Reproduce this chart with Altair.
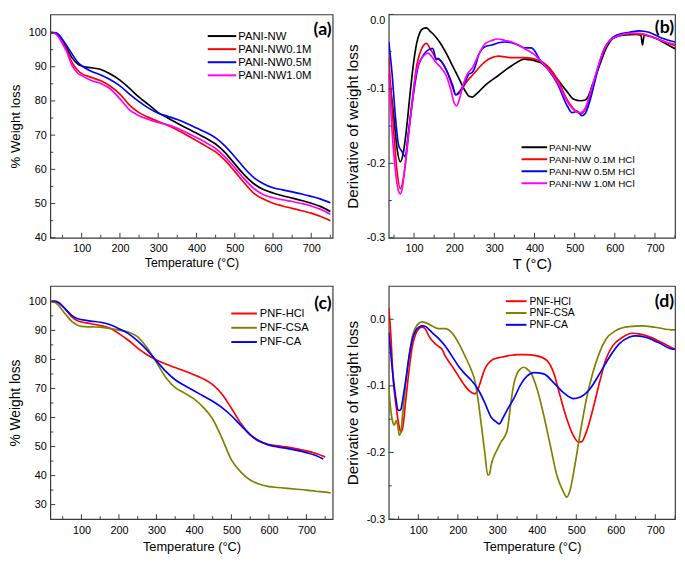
import altair as alt
import pandas as pd

FONT = "Liberation Sans"
FRAME = "#3a3a3a"

# ---------------- panel (a): TGA ----------------
a_T = [20, 30, 40, 50, 60, 75, 90, 100, 125, 150, 175, 200, 225, 250, 275, 300, 325, 350,
       375, 400, 425, 450, 475, 500, 525, 550, 575, 600, 625, 650, 675, 700, 725, 750]
a_nw = [100, 99.9, 99.2, 97.6, 95.6, 92.6, 90.8, 90.2, 89.7, 89.2, 87.9, 86.1, 83.7, 81.1, 78.9, 76.6,
        75.0, 73.5, 72.0, 70.6, 69.1, 67.4, 64.9, 61.6, 58.4, 55.8, 54.1, 53.1, 52.3, 51.6, 50.9, 50.1, 49.1, 47.7]
a_01 = [100, 99.8, 98.8, 97.0, 95.0, 91.2, 88.9, 88.0, 86.9, 85.9, 84.3, 82.0, 78.8, 76.6, 75.2, 74.0,
        72.8, 71.5, 70.0, 68.4, 66.8, 65.1, 62.6, 59.4, 56.0, 53.0, 51.3, 50.1, 49.3, 48.6, 47.9, 47.2, 46.2, 45.0]
a_05 = [100, 100, 99.4, 98.0, 96.3, 93.7, 91.3, 90.3, 88.7, 87.6, 86.2, 84.4, 82.0, 79.8, 77.9, 76.4,
        75.5, 74.6, 73.4, 72.1, 70.8, 69.2, 66.8, 63.7, 60.4, 57.6, 55.8, 54.6, 54.0, 53.4, 52.8, 52.1, 51.3, 50.2]
a_10 = [100, 99.8, 98.6, 96.7, 94.6, 90.3, 88.1, 87.4, 86.0, 85.1, 83.5, 80.6, 77.4, 75.7, 74.6, 73.7,
        73.0, 72.0, 70.7, 69.3, 67.8, 66.1, 63.6, 60.5, 57.2, 54.4, 52.6, 51.7, 51.1, 50.6, 50.0, 49.3, 48.3, 46.9]
a_names = ["PANI-NW", "PANI-NW0.1M", "PANI-NW0.5M", "PANI-NW1.0M"]

# ---------------- panel (b): DTG ----------------
b_nw_T = [37, 49.5, 57.6, 65.8, 73.9, 82, 90.2, 98.4, 106.5, 114.7, 122.8, 131, 139, 147, 163.6, 180, 196,
          212.5, 228.8, 237, 245, 253, 261, 277.7, 310, 343, 375.6, 416, 457, 481.6, 498, 514.5, 526.4,
          538.6, 542.7, 546.8, 563, 579, 595.6, 620, 652.7, 665, 669, 673, 701.6, 726, 750]
b_nw_V = [-0.08, -0.137, -0.18, -0.198, -0.184, -0.150, -0.106, -0.067, -0.039, -0.024, -0.019, -0.018,
          -0.022, -0.026, -0.037, -0.052, -0.069, -0.087, -0.104, -0.110, -0.111, -0.108, -0.104, -0.095,
          -0.082, -0.069, -0.060, -0.065, -0.087, -0.104, -0.114, -0.116, -0.115, -0.104, -0.097, -0.091,
          -0.067, -0.045, -0.032, -0.028, -0.027, -0.028, -0.041, -0.028, -0.032, -0.039, -0.046]
b_01_T = [37, 49.5, 57.6, 65.8, 73.9, 82, 90.2, 98.4, 106.5, 114.7, 122.8, 131, 139, 147, 155, 163.6, 180,
          196, 204, 212.5, 228.8, 245, 261, 277.7, 294, 310, 343, 375.6, 416, 457, 481.6, 506, 518, 530.5,
          546.8, 563, 579, 603.8, 636.4, 669, 701.6, 726, 750]
b_01_V = [-0.058, -0.158, -0.210, -0.234, -0.219, -0.184, -0.141, -0.102, -0.069, -0.052, -0.042, -0.039,
          -0.045, -0.052, -0.059, -0.061, -0.074, -0.098, -0.108, -0.106, -0.092, -0.082, -0.072, -0.063,
          -0.058, -0.056, -0.058, -0.058, -0.063, -0.087, -0.115, -0.131, -0.133, -0.123, -0.093, -0.063,
          -0.041, -0.030, -0.026, -0.027, -0.032, -0.037, -0.042]
b_05_T = [37.2, 45.4, 53.5, 61.7, 69.8, 78, 86, 94.3, 102.4, 110.6, 118.7, 126.9, 135, 143, 147, 155.4,
          159.5, 167.7, 180, 196, 204, 212.5, 228.8, 237, 245, 253, 261, 277.7, 294, 310, 326.6, 343, 359,
          375.6, 392, 416, 436.7, 457, 481.6, 493.8, 506, 518, 526.4, 538.6, 555, 571, 587.5, 603.8, 636.4,
          661, 685, 718, 750]
b_05_V = [-0.037, -0.080, -0.137, -0.176, -0.184, -0.191, -0.158, -0.124, -0.093, -0.069, -0.059, -0.052,
          -0.048, -0.046, -0.046, -0.061, -0.059, -0.063, -0.074, -0.095, -0.108, -0.104, -0.089, -0.080,
          -0.078, -0.069, -0.054, -0.043, -0.041, -0.038, -0.037, -0.038, -0.041, -0.045, -0.045, -0.063,
          -0.076, -0.093, -0.123, -0.132, -0.130, -0.136, -0.133, -0.115, -0.080, -0.050, -0.035, -0.028,
          -0.024, -0.022, -0.024, -0.032, -0.037]
b_10_T = [37.2, 45.4, 53.5, 61.7, 65.8, 69.8, 78, 86, 94.3, 102.4, 110.6, 118.7, 126.9, 135, 143, 155.4,
          167.7, 180, 192, 200, 206, 212.5, 220.6, 233, 245, 261, 277.7, 294, 310, 326.6, 343, 359, 375.6,
          400, 416, 457, 481.6, 502, 514, 526.4, 538.6, 555, 571, 587.5, 612, 644.5, 669, 701.6, 726, 750]
b_10_V = [-0.080, -0.158, -0.210, -0.238, -0.241, -0.236, -0.202, -0.163, -0.124, -0.087, -0.067, -0.059,
          -0.054, -0.052, -0.056, -0.065, -0.072, -0.082, -0.102, -0.119, -0.123, -0.115, -0.098, -0.080,
          -0.072, -0.054, -0.039, -0.035, -0.033, -0.035, -0.037, -0.041, -0.046, -0.054, -0.063, -0.091,
          -0.117, -0.130, -0.132, -0.126, -0.106, -0.076, -0.050, -0.035, -0.028, -0.025, -0.026, -0.032,
          -0.037, -0.040]
b_names = ["PANI-NW", "PANI-NW 0.1M HCl", "PANI-NW 0.5M HCl", "PANI-NW 1.0M HCl"]

# ---------------- panel (c): TGA ----------------
c_T = [20, 30, 40, 50, 60, 75, 90, 100, 125, 150, 175, 200, 225, 250, 275, 300, 325, 350,
       375, 400, 425, 450, 475, 500, 525, 550, 575, 600, 625, 650, 675, 700, 725, 750]
c_hcl = [100, 100, 99.6, 98.3, 96.8, 94.6, 93.3, 92.9, 92.3, 91.7, 90.8, 88.9, 86.6, 83.9, 81.6, 79.8,
         78.4, 77.2, 76.0, 74.7, 73.3, 71.3, 68.0, 63.2, 58.0, 54.0, 51.7, 50.7, 50.2, 49.8, 49.2, 48.5, 47.6, 46.4]
c_ca_T = [20, 30, 40, 50, 60, 75, 90, 100, 125, 150, 175, 200, 225, 250, 275, 300, 325, 350,
          375, 400, 425, 450, 475, 500, 525, 550, 575, 600, 625, 650, 675, 700, 725, 745]
c_ca = [100, 100, 99.4, 98.3, 97.0, 95.1, 94.0, 93.7, 93.2, 92.8, 92.0, 90.6, 88.9, 86.4, 83.2, 79.5,
        75.9, 73.0, 71.0, 69.2, 67.4, 65.6, 63.4, 60.6, 57.3, 54.1, 51.9, 50.5, 49.8, 49.3, 48.7, 47.9, 46.9, 45.7]
c_csa_T = [20, 30, 40, 50, 60, 75, 90, 100, 125, 150, 175, 200, 225, 250, 275, 300, 325, 350,
           375, 400, 425, 450, 475, 500, 525, 550, 575, 600, 625, 650, 675, 700, 725, 750, 765]
c_csa = [100, 99.6, 98.5, 96.8, 95.2, 93.0, 91.8, 91.4, 91.2, 91.1, 90.7, 90.1, 89.4, 87.8, 84.0, 79.0,
         73.8, 70.3, 68.4, 66.4, 63.5, 59.5, 52.8, 45.4, 41.2, 38.5, 37.0, 36.2, 35.9, 35.6, 35.3, 35.0,
         34.6, 34.3, 34.0]
cd_names = ["PNF-HCl", "PNF-CSA", "PNF-CA"]

# ---------------- panel (d): DTG ----------------
d_hcl_T = [25, 31, 35, 43.4, 51.7, 55.9, 60, 68.4, 76.7, 85, 93.3, 101.6, 110, 118.2, 126.5, 134.8, 143,
           151.5, 159.8, 168, 184.7, 201.3, 218, 234.6, 243, 251, 259.5, 268, 284.4, 301, 317.7, 334.3, 351,
           367.6, 400.8, 425.8, 442.4, 459, 475.6, 492, 504.7, 513, 525.5, 542, 558.7, 575, 592, 617,
           641.8, 658.5, 683.4, 716.6, 745.7, 750]
d_hcl = [0.017, -0.030, -0.080, -0.129, -0.162, -0.169, -0.164, -0.120, -0.075, -0.040, -0.022, -0.014,
         -0.012, -0.015, -0.025, -0.032, -0.037, -0.041, -0.045, -0.055, -0.070, -0.085, -0.100, -0.110,
         -0.112, -0.105, -0.090, -0.075, -0.062, -0.058, -0.056, -0.054, -0.053, -0.053, -0.055, -0.062,
         -0.080, -0.115, -0.149, -0.174, -0.184, -0.184, -0.169, -0.135, -0.095, -0.060, -0.040, -0.027,
         -0.021, -0.022, -0.026, -0.035, -0.044, -0.045]
d_csa_T = [25, 26.8, 35, 39.3, 43.4, 47.6, 51.7, 55.9, 60, 68.4, 76.7, 85, 93.3, 101.6, 110, 118.2, 134.8,
           151.5, 168, 184.7, 201.3, 218, 234.6, 243, 251, 259.5, 268, 276, 280.3, 284.4, 292.7, 301, 309.4,
           317.7, 326, 334.3, 342.6, 351, 359, 367.5, 375.8, 384.2, 400.8, 417.5, 434, 450.7, 467.3, 475.6,
           484, 496.4, 509, 525.5, 542, 558.7, 575, 600, 633.5, 666.8, 700, 745.7, 750]
d_csa = [-0.10, -0.115, -0.154, -0.159, -0.152, -0.159, -0.174, -0.169, -0.144, -0.095, -0.055, -0.025,
         -0.012, -0.006, -0.004, -0.005, -0.010, -0.014, -0.014, -0.020, -0.035, -0.055, -0.077, -0.092,
         -0.120, -0.159, -0.199, -0.234, -0.232, -0.219, -0.204, -0.194, -0.184, -0.177, -0.164, -0.125,
         -0.095, -0.080, -0.074, -0.072, -0.075, -0.080, -0.105, -0.144, -0.189, -0.234, -0.259, -0.267,
         -0.257, -0.219, -0.174, -0.120, -0.080, -0.050, -0.030, -0.017, -0.011, -0.010, -0.012, -0.016, -0.016]
d_ca_T = [25, 26.8, 35, 43.4, 47.6, 51.7, 55.9, 60, 68.4, 76.7, 85, 93.3, 101.6, 110, 118.2, 126.5, 134.8,
          151.5, 168, 184.7, 201.3, 218, 234.6, 251, 268, 284.4, 297, 305, 313.5, 326, 342.6, 359, 375.8,
          392.5, 417.5, 442.4, 467.3, 492, 509, 533.8, 558.7, 583.7, 608.6, 633.5, 650, 675, 708, 745.7, 750]
d_ca = [-0.02, -0.030, -0.080, -0.120, -0.135, -0.137, -0.135, -0.122, -0.090, -0.055, -0.030, -0.017,
        -0.012, -0.010, -0.011, -0.015, -0.020, -0.029, -0.040, -0.055, -0.070, -0.082, -0.092, -0.105,
        -0.125, -0.147, -0.154, -0.157, -0.149, -0.135, -0.118, -0.098, -0.085, -0.080, -0.082, -0.095,
        -0.110, -0.119, -0.117, -0.105, -0.082, -0.057, -0.037, -0.027, -0.025, -0.027, -0.035, -0.045, -0.044]

# ---------------- axis ticks ----------------
tga_xmaj = [100, 200, 300, 400, 500, 600, 700]
tga_xmin = [50, 150, 250, 350, 450, 550, 650, 750]
a_ymaj = [40, 50, 60, 70, 80, 90, 100]
a_ymin = [45, 55, 65, 75, 85, 95]
c_ymaj = [30, 40, 50, 60, 70, 80, 90, 100]
c_ymin = [35, 45, 55, 65, 75, 85, 95]
dtg_ymaj = [-0.3, -0.2, -0.1, 0.0]
dtg_ymin = [-0.25, -0.15, -0.05]

C_BLACK, C_RED, C_BLUE, C_MAG, C_OLIVE = "#000000", "#ff0000", "#0000ff", "#ff00ff", "#808000"


def long_df(series):
    rows = []
    for name, T, V in series:
        for t, v in zip(T, V):
            rows.append({"T": t, "v": v, "s": name})
    return pd.DataFrame(rows)


NEG_EXPR = "datum.value < -0.0001 ? '-' + format(-datum.value, '.1f') : format(abs(datum.value), '.1f')"


def legend_layers(names, colors, lx, ly, dy, L, off, fs):
    out = []
    for i, (n, c) in enumerate(zip(names, colors)):
        d = pd.DataFrame({"t": [n]})
        y = ly + i * dy
        out.append(alt.Chart(d).mark_rule(color=c, strokeWidth=2).encode(
            x=alt.value(lx), x2=alt.value(lx + L), y=alt.value(y)))
        out.append(alt.Chart(d).mark_text(font=FONT, fontSize=fs, align="left", baseline="middle",
                                          color="black").encode(
            text="t:N", x=alt.value(lx + L + off), y=alt.value(y + 0.5)))
    return out


def panel(df, names, colors, xdom, ydom, ymaj, ymin, w, h, xtitle, ytitle, xtfs, ytfs,
          dtg, top_flush, leg, tag, tag_y, xlp=5, xtp=3):
    xs = alt.Scale(domain=xdom, nice=False, zero=False)
    ys = alt.Scale(domain=ydom, nice=False, zero=False)
    xaxis = alt.Axis(values=tga_xmaj, title=xtitle, titleFontSize=xtfs, labelFontSize=11,
                     labelPadding=xlp, titlePadding=xtp)
    ykw = dict(values=ymaj, title=ytitle, titleFontSize=ytfs, labelFontSize=11,
               labelPadding=4, titlePadding=6)
    if dtg:
        ykw["labelExpr"] = NEG_EXPR
    if top_flush:
        ykw["labelBaseline"] = {"condition": {"test": "datum.value > -0.0001", "value": "top"},
                                "value": "middle"}
    yaxis = alt.Axis(**ykw)
    lines = alt.Chart(df).mark_line(strokeWidth=1.7, clip=True, interpolate="monotone").encode(
        x=alt.X("T:Q", scale=xs, axis=xaxis),
        y=alt.Y("v:Q", scale=ys, axis=yaxis),
        color=alt.Color("s:N", scale=alt.Scale(domain=names, range=colors), legend=None),
    )
    xt1 = alt.Chart(pd.DataFrame({"T": tga_xmaj})).mark_rule(color=FRAME, strokeWidth=1).encode(
        x=alt.X("T:Q", scale=xs, axis=xaxis), y=alt.value(h), y2=alt.value(h - 5))
    xt2 = alt.Chart(pd.DataFrame({"T": tga_xmin})).mark_rule(color=FRAME, strokeWidth=1).encode(
        x=alt.X("T:Q", scale=xs, axis=xaxis), y=alt.value(h), y2=alt.value(h - 3))
    yt1 = alt.Chart(pd.DataFrame({"v": ymaj})).mark_rule(color=FRAME, strokeWidth=1).encode(
        y=alt.Y("v:Q", scale=ys, axis=yaxis), x=alt.value(0), x2=alt.value(5))
    yt2 = alt.Chart(pd.DataFrame({"v": ymin})).mark_rule(color=FRAME, strokeWidth=1).encode(
        y=alt.Y("v:Q", scale=ys, axis=yaxis), x=alt.value(0), x2=alt.value(3))
    label = alt.Chart(pd.DataFrame({"t": [tag]})).mark_text(
        font="Lato", fontSize=18, fontWeight="bold", align="right", baseline="middle", color="black"
    ).encode(text="t:N", x=alt.value(w - 1), y=alt.value(tag_y))
    legs = legend_layers(names, colors, **leg)
    return alt.layer(lines, xt1, xt2, yt1, yt2, label, *legs).properties(width=w, height=h)


df_a = long_df([(a_names[0], a_T, a_nw), (a_names[1], a_T, a_01), (a_names[2], a_T, a_05), (a_names[3], a_T, a_10)])
df_b = long_df([(b_names[0], b_nw_T, b_nw_V), (b_names[1], b_01_T, b_01_V),
                (b_names[2], b_05_T, b_05_V), (b_names[3], b_10_T, b_10_V)])
df_c = long_df([(cd_names[0], c_T, c_hcl), (cd_names[1], c_csa_T, c_csa), (cd_names[2], c_ca_T, c_ca)])
df_d = long_df([(cd_names[0], d_hcl_T, d_hcl), (cd_names[1], d_csa_T, d_csa), (cd_names[2], d_ca_T, d_ca)])

pa = panel(df_a, a_names, [C_BLACK, C_RED, C_BLUE, C_MAG], [18, 756], [40, 105.3], a_ymaj, a_ymin,
           287, 227, "Temperature (°C)", "% Weight loss", 12.5, 13.5, False, False,
           dict(lx=160, ly=22, dy=13.3, L=29, off=2, fs=11.5), "(a)", 16)
pb = panel(df_b, b_names, [C_BLACK, C_RED, C_BLUE, C_MAG], [37, 750], [-0.3, 0.0], dtg_ymaj, dtg_ymin,
           291, 227, "T (°C)", "Derivative of weight loss", 15, 15.5, True, True,
           dict(lx=135, ly=135, dy=12.2, L=26, off=2, fs=10), "(b)", 14)
pc = panel(df_c, cd_names, [C_RED, C_OLIVE, C_BLUE], [17, 770], [25, 105.3], c_ymaj, c_ymin,
           287, 237, "Temperature (°C)", "% Weight loss", 13, 14, False, False,
           dict(lx=184, ly=28, dy=14.5, L=26, off=3, fs=11.3), "(c)", 18, 6, 5)
pd_ = panel(df_d, cd_names, [C_RED, C_OLIVE, C_BLUE], [25, 750], [-0.3, 0.05], dtg_ymaj, dtg_ymin,
            291, 237, "Temperature (°C)", "Derivative of weight loss", 13, 15.5, True, False,
            dict(lx=119, ly=15.5, dy=12, L=21, off=3, fs=10.5), "(d)", 16, 6, 5)

chart = alt.concat(pa, pb, pc, pd_, columns=2, spacing={"row": 49, "column": 57}, bounds="flush").resolve_scale(
    color="independent", x="independent", y="independent"
).properties(padding=0).configure_view(
    stroke=FRAME, strokeWidth=1.2
).configure_axis(
    labelFont=FONT, titleFont=FONT, grid=False, domain=False, ticks=False,
    labelColor="black", titleColor="black", titleFontWeight="normal"
)

chart.save("out.html", embed_options={"renderer": "svg", "actions": False})
